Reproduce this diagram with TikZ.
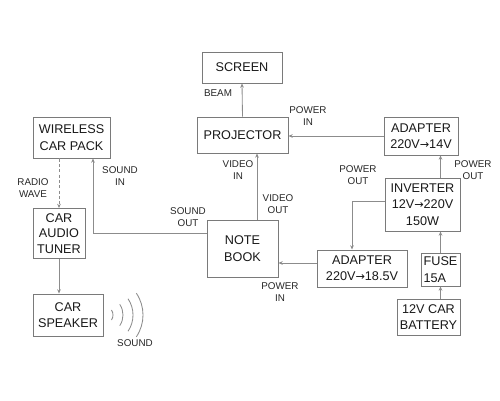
\documentclass[tikz,border=0pt]{standalone}
\usepackage{fontspec}
\setmainfont{Liberation Sans}
\newfontfamily\arrowfont{DejaVu Sans}
\newcommand{\tovolt}{{\arrowfont\fontsize{8}{8}\selectfont →}}
\usetikzlibrary{positioning,calc,arrows.meta}
\definecolor{wiregray}{HTML}{8C8C8C}
\definecolor{boxgray}{HTML}{7A7A7A}
\tikzset{
  wire/.style  = {line width=0.6pt, draw=wiregray},
  awire/.style = {wire, -{Stealth[length=3pt,width=2.6pt]}},
  rwire/.style = {awire, dashed, dash pattern=on 2.2pt off 1.6pt},
  blk/.style   = {draw=boxgray, line width=0.7pt, fill=white, inner sep=1pt,
                  align=center, text=black!90,
                  font=\fontsize{9}{11.6}\selectfont},
  lbl/.style   = {inner sep=0pt, align=center, text=black!85,
                  font=\fontsize{7}{8.6}\selectfont},
}
\begin{document}
\begin{tikzpicture}[x=0.25mm,y=-0.25mm]
  \useasboundingbox (0,0) rectangle (500,400);
  % boxes
  \node[blk,minimum width=20mm,minimum height=7.75mm] (screen) at (242,67.5) {SCREEN};
  \node[blk,minimum width=22.75mm,minimum height=9mm] (proj) at (242.5,135) {PROJECTOR};
  \node[blk,minimum width=18.5mm,minimum height=9.5mm] (ad14) at (421,136) {ADAPTER\\220V\tovolt14V};
  \node[blk,minimum width=19.25mm,minimum height=10.25mm] (wcp) at (71.5,137.5) {WIRELESS\\CAR PACK};
  \node[blk,minimum width=13mm,minimum height=12.5mm,
        font=\fontsize{9}{11.2}\selectfont] (tuner) at (59,233.5) {CAR\\AUDIO\\TUNER};
  \node[blk,minimum width=17.5mm,minimum height=10.5mm] (spk) at (68,315) {CAR\\SPEAKER};
  \node[blk,minimum width=17.75mm,minimum height=14.25mm] (nb) at (242.5,248.5) {NOTE\\BOOK};
  \node[blk,minimum width=18.75mm,minimum height=13.25mm] (inv) at (422.5,204.5) {INVERTER\\12V\tovolt220V\\150W};
  \node[blk,minimum width=22.5mm,minimum height=9.25mm] (ad185) at (362,268.5) {ADAPTER\\220V\tovolt18.5V};
  \node[blk,minimum width=9.75mm,minimum height=8.25mm,align=left] (fuse) at (440.5,269.5) {FUSE\\15A};
  \node[blk,minimum width=15.75mm,minimum height=9mm] (batt) at (428.5,317) {12V CAR\\BATTERY};
  % connectors
  \draw[awire] (proj.north) -- (screen.south);
  \draw[awire] (ad14.west) -- (ad14.west -| proj.east);
  \draw[awire] (fuse.north |- inv.north) -- (fuse.north |- ad14.south);
  \draw[awire] (fuse.north) -- (fuse.north |- inv.south);
  \draw[awire] (fuse.south |- batt.north) -- (fuse.south);
  \coordinate (ad185in) at ($(ad185.north)+(-10,0)$);
  \draw[awire] ($(inv.west)+(0,-3.5)$) -| (ad185in);
  \coordinate (ad185out) at ($(ad185.west)+(0,-5.5)$);
  \draw[awire] (ad185out) -- (ad185out -| nb.east);
  \coordinate (vidout) at ($(nb.north)+(14.5,0)$);
  \draw[awire] (vidout) -- (vidout |- proj.south);
  \coordinate (sndout) at ($(nb.west)+(0,-15.5)$);
  \coordinate (sndin) at ($(wcp.south)+(21.5,0)$);
  \draw[awire] (sndout) -| (sndin);
  \draw[rwire] (tuner.north |- wcp.south) -- (tuner.north);
  \draw[awire] (tuner.south) -- (tuner.south |- spk.north);
  % sound waves
  \coordinate (snd) at (104,315);
  \foreach \r in {9,19,29,39}
    \draw[wire] ($(snd)+({\r*cos(34)},{\r*sin(34)})$)
      arc[start angle=-34, end angle=34, radius=\r*0.25mm];
  % labels
  \node[lbl] (lbeam) at (218,93) {BEAM};
  \node[lbl] (lpin1) at (308,116) {POWER\\IN};
  \node[lbl] (lradio) at (33,188.5) {RADIO\\WAVE};
  \node[lbl] (lsin) at (120,176) {SOUND\\IN};
  \node[lbl] (lsout) at (188,217) {SOUND\\OUT};
  \node[lbl] (lvin) at (238,170) {VIDEO\\IN};
  \node[lbl] (lvout) at (278,204) {VIDEO\\OUT};
  \node[lbl] (lpout1) at (358,175) {POWER\\OUT};
  \node[lbl] (lpout2) at (473,170) {POWER\\OUT};
  \node[lbl] (lpin2) at (280,292.5) {POWER\\IN};
  \node[lbl] (lsound) at (135,343) {SOUND};
\end{tikzpicture}
\end{document}
